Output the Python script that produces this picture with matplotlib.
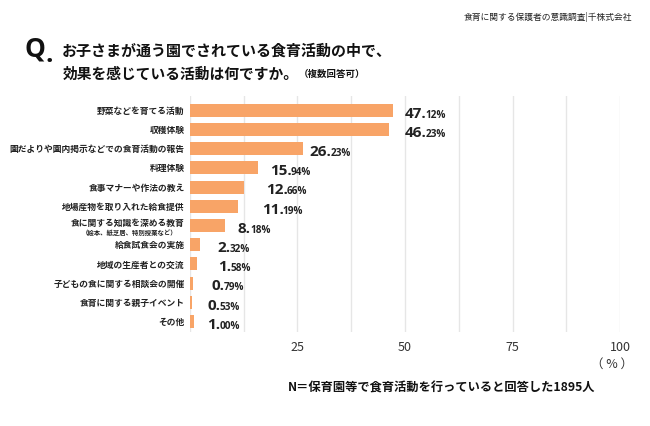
import matplotlib.pyplot as plt
from matplotlib.transforms import blended_transform_factory

plt.rcParams['font.family'] = ['Noto Sans CJK JP', 'DejaVu Sans']

# Data
categories = ['野菜などを育てる活動', '収穫体験', '園だよりや園内掲示などでの食育活動の報告',
              '料理体験', '食事マナーや作法の教え', '地場産物を取り入れた給食提供',
              '食に関する知識を深める教育', '給食試食会の実施', '地域の生産者との交流',
              '子どもの食に関する相談会の開催', '食育に関する親子イベント', 'その他']
sub_labels = {6: '（絵本、紙芝居、特別授業など）'}
values = [47.12, 46.23, 26.23, 15.94, 12.66, 11.19, 8.18, 2.32, 1.58, 0.79, 0.53, 1.00]
value_int = ['47.', '46.', '26.', '15.', '12.', '11.', '8.', '2.', '1.', '0.', '0.', '1.']
value_dec = ['12%', '23%', '23%', '94%', '66%', '19%', '18%', '32%', '58%', '79%', '53%', '00%']
# where each value label starts (data units)
label_x = [50.0, 50.0, 27.9, 18.6, 17.7, 16.7, 11.2, 6.5, 6.5, 5.1, 4.0, 4.0]
xticks = [25, 50, 75, 100]
grid_x = [0, 12.5, 25, 37.5, 50, 62.5, 75, 87.5, 100]

bar_color = '#F8A467'

fig = plt.figure(figsize=(6.5, 4.27), dpi=100)
ax = fig.add_axes([0.292, 0.22, 0.662, 0.553])

y = list(range(len(categories)))
ax.barh(y, values, height=0.68, color=bar_color, zorder=3)
ax.set_xlim(0, 100)
ax.set_ylim(len(categories) - 0.45, -0.75)

ax.set_xticks(grid_x)
ax.set_xticklabels([str(int(t)) if t in xticks else '' for t in grid_x])
ax.grid(axis='x', color='#e6e6e6', linewidth=1, zorder=0)
ax.tick_params(axis='x', length=0, pad=6, labelsize=9, labelcolor='#333333')
ax.set_yticks([])
for s in ax.spines.values():
    s.set_visible(False)

# category labels
trans = blended_transform_factory(ax.transAxes, ax.transData)
for i, cat in enumerate(categories):
    if i in sub_labels:
        ax.text(-0.012, i - 0.18, cat, transform=trans, ha='right', va='center',
                fontsize=6.3, fontweight='bold', color='#222222')
        ax.text(-0.03, i + 0.3, sub_labels[i], transform=trans, ha='right', va='center',
                fontsize=4.6, fontweight='bold', color='#222222')
    else:
        ax.text(-0.012, i, cat, transform=trans, ha='right', va='center',
                fontsize=6.3, fontweight='bold', color='#222222')

# value labels: large integer part, small decimals on the same baseline
big = []
for i in range(len(values)):
    t = ax.text(label_x[i], i + 0.33, value_int[i], ha='left', va='baseline',
                fontsize=11, fontweight='bold', color='#222222', family='Open Sans')
    big.append(t)
fig.canvas.draw()
inv = ax.transData.inverted()
for i, t in enumerate(big):
    bb = t.get_window_extent()
    x_end = inv.transform((bb.x1, 0))[0]
    ax.text(x_end - 0.2, i + 0.33, value_dec[i], ha='left', va='baseline',
            fontsize=7.2, fontweight='bold', color='#222222', family='Open Sans')

# texts around the chart
fig.text(0.973, 0.96, '食育に関する保護者の意識調査|千株式会社', ha='right', va='center',
         fontsize=6.3, color='#222222')
fig.text(0.038, 0.885, 'Q', ha='left', va='center', fontsize=19, fontweight='bold',
         color='#111111', family='Open Sans')
fig.text(0.07, 0.872, '.', ha='left', va='center', fontsize=19, fontweight='bold',
         color='#111111', family='Open Sans')
fig.text(0.095, 0.882, 'お子さまが通う園でされている食育活動の中で、', ha='left', va='center',
         fontsize=10.8, fontweight='bold', color='#111111')
fig.text(0.097, 0.828, '効果を感じている活動は何ですか。', ha='left', va='center',
         fontsize=10.6, fontweight='bold', color='#111111')
fig.text(0.46, 0.826, '（複数回答可）', ha='left', va='center',
         fontsize=6.8, fontweight='bold', color='#111111')

fig.text(0.942, 0.148, '（ % ）', ha='center', va='center', fontsize=9, color='#333333')
fig.text(0.68, 0.091, 'N＝保育園等で食育活動を行っていると回答した1895人', ha='center', va='center',
         fontsize=8.8, fontweight='bold', color='#111111')

fig.savefig('out.png', dpi=100, facecolor='white')
